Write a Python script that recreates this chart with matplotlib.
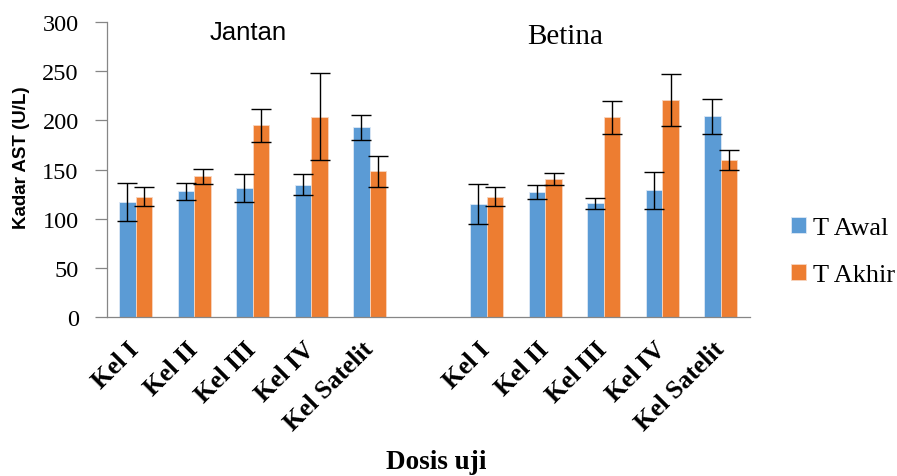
import matplotlib
matplotlib.use("Agg")
import matplotlib.pyplot as plt
import numpy as np

categories = ["Kel I", "Kel II", "Kel III", "Kel IV", "Kel Satelit"]
groups = ["Jantan", "Betina"]

awal_jantan = [117, 128, 131, 134.5, 193]
awal_jantan_err = [19, 8.5, 14, 10.6, 12.6]
akhir_jantan = [122.5, 143, 195, 203.5, 148]
akhir_jantan_err = [10, 7.3, 16.7, 44, 15.8]

awal_betina = [115, 127.5, 115.5, 129, 204]
awal_betina_err = [20, 7, 5.2, 18.6, 18]
akhir_betina = [122.5, 140.5, 203, 221, 159.5]
akhir_betina_err = [10, 6.3, 16.6, 26.4, 9.8]

series_labels = ["T Awal", "T Akhir"]
yticks = [0, 50, 100, 150, 200, 250, 300]

blue = "#5B9BD5"
orange = "#ED7D31"

fig = plt.figure(figsize=(8.97, 4.77), dpi=100)
ax = fig.add_axes([106.5 / 897, 1 - 318.3 / 477, (750 - 106.5) / 897, (318.3 - 22.7) / 477])

n = len(categories)
x_j = np.arange(n)
x_b = np.arange(n) + n + 1
xs = np.concatenate([x_j, x_b])
awal = awal_jantan + awal_betina
awal_err = awal_jantan_err + awal_betina_err
akhir = akhir_jantan + akhir_betina
akhir_err = akhir_jantan_err + akhir_betina_err

w = 0.284
ekw = dict(ecolor="black", elinewidth=1.0, capsize=7.5, capthick=1.0)
ax.bar(xs - w / 2, awal, w, color=blue, edgecolor="#DDE8F5", linewidth=0.6,
       yerr=awal_err, error_kw=ekw, label=series_labels[0], zorder=2)
ax.bar(xs + w / 2, akhir, w, color=orange, edgecolor="#F8D6C0", linewidth=0.6,
       yerr=akhir_err, error_kw=ekw, label=series_labels[1], zorder=2)

ax.set_xlim(-0.5, 2 * n + 0.5)
ax.set_ylim(0, 300)
ax.set_yticks(yticks)
ax.set_yticklabels([str(t) for t in yticks], fontfamily="Liberation Serif", fontsize=17.5)
ax.tick_params(axis="y", direction="out", length=9, width=0.9, color="#868686", pad=11)
ax.tick_params(axis="x", length=0, pad=20)
ax.set_xticks(xs)
ax.set_xticklabels(categories + categories, rotation=45, ha="right", va="center",
                   rotation_mode="anchor", fontfamily="Liberation Serif",
                   fontweight="bold", fontsize=18.5)

for s in ["top", "right"]:
    ax.spines[s].set_visible(False)
ax.spines["left"].set_color("#868686")
ax.spines["bottom"].set_color("#868686")
ax.spines["left"].set_linewidth(0.9)
ax.spines["bottom"].set_linewidth(0.9)

fig.text(248 / 897, 1 - 40 / 477, groups[0], ha="center", va="baseline",
         fontfamily="Liberation Sans", fontsize=18.5)
fig.text(565 / 897, 1 - 44.3 / 477, groups[1], ha="center", va="baseline",
         fontfamily="Liberation Serif", fontsize=21)

fig.text(22 / 897, 1 - 158 / 477, "Kadar AST (U/L)", rotation=90, ha="center", va="center",
         fontfamily="Liberation Sans", fontweight="bold", fontsize=13.5)
fig.text(436 / 897, 1 - 469 / 477, "Dosis uji", ha="center", va="baseline",
         fontfamily="Liberation Serif", fontweight="bold", fontsize=19.5)

leg = fig.legend(loc="center left", bbox_to_anchor=(791 / 897, 1 - 252.5 / 477),
                 frameon=False, prop={"family": "Liberation Serif", "size": 19},
                 handlelength=0.55, handleheight=0.55, handletextpad=0.3,
                 labelspacing=0.95, borderpad=0, borderaxespad=0)

fig.savefig("out.png", dpi=100)
